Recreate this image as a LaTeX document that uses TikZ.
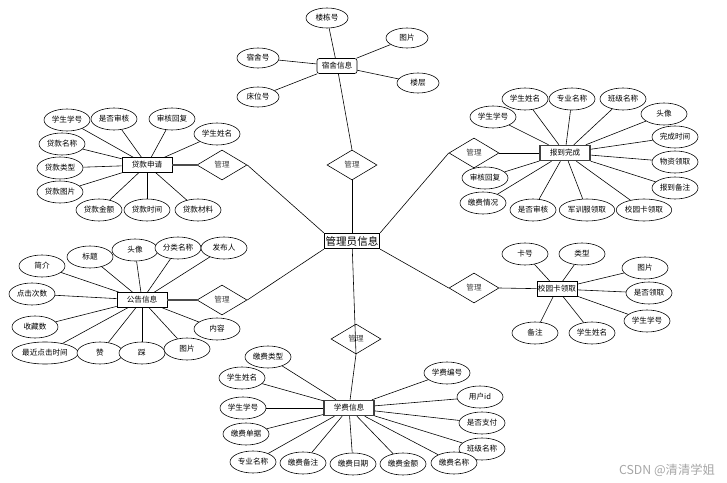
\documentclass[tikz,border=0pt]{standalone}
\usepackage{fontspec}
\usepackage{tikz}
\usetikzlibrary{shapes.geometric}
\newfontfamily\cjk{Noto Sans CJK SC}

\tikzset{
    attr/.style={draw,ellipse,fill=white,minimum width=1.38cm,minimum height=0.66cm,inner sep=0.5pt,font=\cjk\fontsize{6.5}{7}\selectfont},
    entity/.style={draw,rectangle,fill=white,minimum width=1.5cm,minimum height=0.45cm,inner sep=1pt,font=\cjk\fontsize{6.5}{7}\selectfont},
    rel/.style={draw,diamond,aspect=1.667,minimum width=1.5cm,minimum height=0.9cm,inner sep=0pt,font=\cjk\fontsize{6.5}{7}\selectfont,text=black!75},
    link/.style={line width=1pt,black!70}
}

\begin{document}
\begin{tikzpicture}[x=0.03cm,y=-0.03cm,line width=0.5pt]
    \useasboundingbox (0,0) rectangle (727,483);

    % centre
    \node[entity,line width=1.1pt,minimum width=1.56cm,font=\cjk\fontsize{9}{10}\selectfont] (admin) at (352,241) {管理员信息};

    % relations
    \node[rel] (mTop) at (352,165) {管理};
    \node[rel] (mLoan) at (222,165) {管理};
    \node[rel] (mReport) at (474,153) {管理};
    \node[rel] (mNotice) at (222,300) {管理};
    \node[rel] (mCard) at (474,288) {管理};
    \node[rel] (mFee) at (356,339) {管理};

    \draw (admin) -- (mTop.south);
    \draw (admin.north west) -- (mLoan.east);
    \draw (admin.north east) -- (mReport.west);
    \draw (admin.south west) -- (mNotice.east);
    \draw (admin.south east) -- (mCard.west);
    \draw (admin) -- (mFee.south);

    % dormitory
    \node[entity,rounded corners=2pt,minimum width=1.2cm] (dorm) at (337,66) {宿舍信息};
    \draw (mTop.north) -- (dorm);
    \foreach \n/\p/\t in {1/{327,18}/楼栋号, 2/{407,38}/图片, 3/{258,58}/宿舍号,
                          4/{258,97}/床位号, 5/{418,83}/楼层} {
        \node[attr,minimum width=1.26cm,minimum height=0.6cm] (d\n) at (\p) {\t};
        \draw (dorm) -- (d\n);
    }

    % loan application
    \node[entity] (loan) at (147,165) {贷款申请};
    \draw[link] (loan) -- (mLoan.west);
    \foreach \n/\p/\t in {1/{67,120}/学生学号, 2/{114,119}/是否审核, 3/{172,119}/审核回复,
                          4/{217,134}/学生姓名, 5/{62,144}/贷款名称, 6/{60,168}/贷款类型,
                          7/{60,192}/贷款图片, 8/{99,210}/贷款金额, 9/{147,210}/贷款时间,
                          10/{198,210}/贷款材料} {
        \node[attr] (l\n) at (\p) {\t};
        \draw (loan) -- (l\n);
    }

    % arrival
    \node[entity,line width=1.2pt,draw=black!75] (report) at (565,153) {报到完成};
    \draw (mReport.east) -- (report);
    \foreach \n/\p/\t in {1/{493,117}/学生学号, 2/{525,99}/学生姓名, 3/{572,99}/专业名称,
                          4/{623,99}/班级名称, 5/{664,114}/头像, 6/{675,137}/完成时间,
                          7/{675,162}/物资领取, 8/{675,188}/报到备注, 9/{485,178}/审核回复,
                          10/{483,203}/缴费情况, 11/{533,210}/是否审核, 12/{587,210}/军训服领取,
                          13/{644,210}/校园卡领取} {
        \node[attr] (r\n) at (\p) {\t};
        \draw (report) -- (r\n);
    }

    % notice
    \node[entity] (notice) at (142,300) {公告信息};
    \draw[link] (notice) -- (mNotice.west);
    \foreach \n/\p/\t in {1/{42,266}/简介, 2/{90,257}/标题, 3/{135,250}/头像,
                          4/{178,248}/分类名称, 5/{224,248}/发布人, 6/{32,294}/点击次数,
                          7/{35,327}/收藏数, 8/{45,353}/最近点击时间, 9/{100,353}/赞,
                          10/{142,353}/踩, 11/{187,349}/图片, 12/{217,329}/内容} {
        \node[attr] (n\n) at (\p) {\t};
        \draw (notice) -- (n\n);
    }

    % campus card
    \node[entity,minimum width=1.2cm,inner sep=0.5pt] (card) at (557,289) {校园卡领取};
    \draw (mCard.east) -- (card);
    \foreach \n/\p/\t in {1/{525,254}/卡号, 2/{582,254}/类型, 3/{645,268}/图片,
                          4/{649,293}/是否领取, 5/{647,321}/学生学号, 6/{535,333}/备注,
                          7/{592,333}/学生姓名} {
        \node[attr] (c\n) at (\p) {\t};
        \draw (card) -- (c\n);
    }

    % tuition
    \node[entity,line width=1.2pt,draw=black!75] (fee) at (349,408) {学费信息};
    \draw (mFee.south) -- (fee);
    \foreach \n/\p/\t in {1/{268,357}/缴费类型, 2/{242,378}/学生姓名, 3/{243,408}/学生学号,
                          4/{246,434}/缴费单据, 5/{253,462}/专业名称, 6/{303,463}/缴费备注,
                          7/{353,464}/缴费日期, 8/{403,464}/缴费金额, 9/{447,373}/学费编号,
                          10/{480,397}/用户id, 11/{482,423}/是否支付, 12/{482,449}/班级名称,
                          13/{454,463}/缴费名称} {
        \node[attr] (f\n) at (\p) {\t};
        \draw (fee) -- (f\n);
    }

    \node[text=black!35,font=\cjk\fontsize{10.5}{12}\selectfont] (mark) at (667,470) {CSDN @清清学姐};
\end{tikzpicture}
\end{document}
